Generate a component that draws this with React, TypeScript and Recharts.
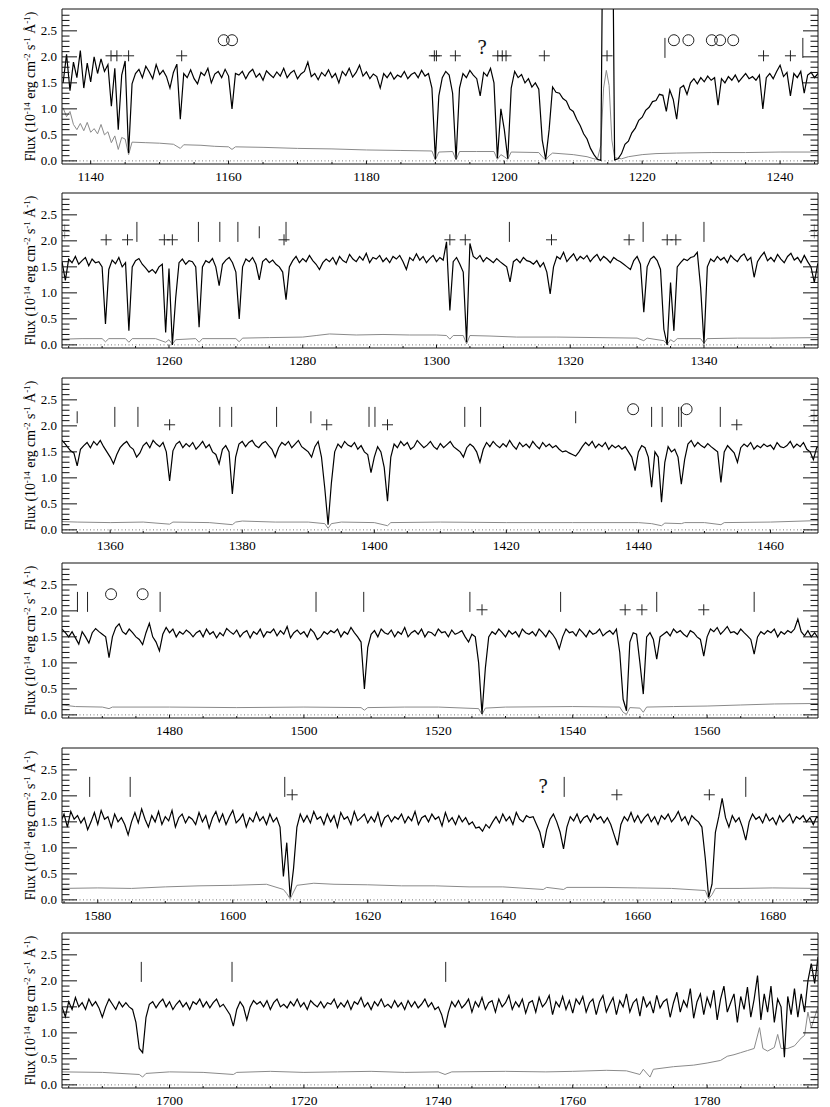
import React from "react";
import { ComposedChart, Line, Scatter, XAxis, YAxis, ReferenceLine } from "recharts";

// flux in units of 0.01 x 10^-14 erg cm^-2 s^-1 A^-1, sampled every 0.5 A from the start wavelength
const p1Start = 1136;
const p1Flux = [
  150, 205, 135, 190, 160, 212, 140, 188, 152, 200, 168, 196, 172, 185, 105, 178, 60, 165, 192, 15,
  148, 168, 176, 160, 182, 171, 158, 185, 166, 174, 162, 140, 170, 186, 80, 168, 160, 175, 158, 148,
  170, 164, 178, 150, 167, 172, 160, 176, 163, 100, 168, 165, 172, 158, 170, 176, 161, 168, 155, 173,
  166, 160, 171, 163, 178, 160, 169, 174, 158, 167, 172, 190, 162, 168, 156, 170, 163, 175, 160, 168,
  150, 172, 164, 178, 161, 170, 184, 163, 171, 158, 167, 162, 140, 168, 160, 170, 157, 165, 161, 172,
  158, 166, 170, 160, 174, 163, 168, 140, 3, 125, 160, 172, 165, 130, 3, 140, 168, 160, 174, 165,
  158, 125, 170, 163, 178, 150, 5, 100, 60, 4, 140, 172, 160, 166, 150, 158, 142, 150, 138, 40,
  3, 60, 142, 132, 130, 120, 115, 100, 95, 80, 68, 52, 42, 24, 12, 3, 1, 800, 800, 800,
  2, 4, 14, 32, 38, 54, 63, 78, 84, 97, 103, 114, 116, 128, 126, 95, 136, 118, 80, 140,
  145, 128, 150, 158, 148, 160, 152, 163, 155, 160, 107, 158, 150, 162, 155, 165, 152, 160, 168, 158,
  162, 155, 165, 100, 160, 168, 158, 172, 184, 162, 170, 125, 168, 160, 172, 130, 165, 170, 160, 168,
];
// error spectrum: [wavelength, flux x100]
const p1Err = [
  [1136, 102], [1136.5, 85], [1137, 95], [1137.5, 70], [1138, 60], [1138.5, 72], [1139, 58], [1139.5, 74],
  [1140, 55], [1140.5, 62], [1141, 52], [1141.5, 70], [1142, 50], [1142.5, 56], [1143, 35], [1143.5, 48],
  [1144, 22], [1144.5, 45], [1145, 42], [1145.5, 12], [1146, 36], [1148, 35], [1150, 34], [1152, 32],
  [1153, 24], [1153.5, 31], [1156, 30], [1158, 28], [1160, 27], [1160.5, 22], [1161, 27], [1165, 26],
  [1170, 24], [1175, 23], [1180, 21], [1185, 20], [1189.5, 19], [1190, 2], [1190.5, 17], [1192.5, 18],
  [1193, 2], [1193.5, 18], [1196, 18], [1198.5, 18], [1199, 3], [1199.5, 12], [1200, 8], [1200.5, 3],
  [1201, 17], [1205, 16], [1205.5, 8], [1206, 2], [1206.5, 10], [1207, 15], [1210, 12], [1212, 8],
  [1213, 4], [1213.5, 3], [1214, 30], [1214.4, 140], [1214.8, 174], [1215.2, 145], [1215.6, 40], [1216, 6],
  [1217, 4], [1218, 8], [1220, 12], [1222, 14], [1225, 15], [1230, 16], [1235, 16], [1240, 17], [1245.5, 17],
];
const p1Plus = [1142.95, 1143.8, 1145.5, 1153.2, 1189.85, 1190.15, 1192.9, 1199.05, 1199.7, 1200.25, 1205.8, 1214.9, 1237.6, 1241.5];
const p1Bars = [1223.3, 1243.3];
const p1Circles = [1159.3, 1160.5, 1224.6, 1226.7, 1230.1, 1231.3, 1233.2];
const p1Query = [1196.8];

const p2Start = 1244;
const p2Flux = [
  160, 124, 165, 158, 170, 155, 162, 168, 152, 165, 158, 160, 150, 40, 145, 163, 156, 168, 150, 158,
  27, 150, 162, 166, 155, 148, 140, 145, 138, 150, 155, 24, 147, 0, 90, 158, 165, 155, 162, 160,
  150, 34, 150, 162, 158, 166, 150, 114, 155, 163, 168, 158, 140, 50, 150, 165, 160, 168, 155, 125,
  160, 166, 158, 163, 155, 150, 140, 87, 150, 162, 170, 158, 166, 160, 172, 162, 155, 145, 158, 165,
  160, 168, 155, 170, 162, 158, 174, 165, 160, 170, 163, 176, 158, 168, 165, 172, 160, 167, 158, 170,
  165, 172, 160, 145, 168, 162, 175, 163, 170, 158, 166, 172, 160, 168, 163, 198, 66, 160, 168, 155,
  140, 5, 195, 170, 165, 172, 160, 168, 163, 158, 166, 160, 155, 150, 121, 160, 165, 158, 168, 162,
  160, 155, 162, 150, 158, 140, 98, 150, 170, 165, 178, 160, 168, 175, 162, 170, 165, 172, 160, 168,
  174, 162, 170, 165, 158, 168, 163, 160, 155, 150, 145, 162, 170, 155, 63, 150, 165, 170, 162, 145,
  30, 0, 120, 27, 150, 158, 165, 162, 168, 170, 178, 110, 2, 150, 165, 160, 170, 163, 168, 158,
  172, 165, 160, 170, 175, 162, 168, 130, 160, 170, 178, 162, 168, 160, 174, 165, 158, 170, 176, 163,
  168, 158, 172, 160, 150, 120, 155, 165,
];
const p2Err = [
  [1244, 11], [1247, 12], [1250, 12], [1250.5, 6], [1251, 12], [1253.5, 12], [1254, 5], [1254.5, 12],
  [1258, 12], [1259.5, 5], [1260, 10], [1260.5, 1], [1261, 10], [1264, 12], [1264.5, 5], [1265, 12],
  [1270, 12], [1270.5, 6], [1271, 13], [1275, 14], [1280, 15], [1282, 18], [1284, 21], [1288, 19],
  [1292, 20], [1296, 19], [1300, 19], [1301.5, 18], [1302, 11], [1302.5, 18], [1304, 18], [1304.5, 2],
  [1305, 18], [1308, 17], [1312, 15], [1318, 15], [1324, 14], [1330, 13], [1331, 8], [1331.5, 13],
  [1334, 8], [1334.5, 1], [1335, 10], [1335.5, 6], [1336, 12], [1339.5, 12], [1340, 3], [1340.5, 12],
  [1345, 13], [1350, 13], [1357.5, 14],
];
const p2Plus = [1250.6, 1253.8, 1259.3, 1260.5, 1277.2, 1302.0, 1304.3, 1317.2, 1328.8, 1334.5, 1335.8];
const p2EdgePlus = [1244.4, 1356.5];
const p2Bars = [1255.2, 1264.4, 1267.6, 1270.3, 1277.5, 1310.9, 1330.9, 1340.0];
const p2ShortBars = [1273.5];

const p3Start = 1352.5;
const p3Flux = [
  175, 168, 160, 152, 148, 123, 155, 162, 168, 158, 170, 163, 172, 160, 150, 140, 127, 145, 158, 165,
  170, 160, 155, 140, 148, 162, 168, 158, 172, 165, 160, 168, 150, 94, 152, 165, 170, 158, 166, 160,
  168, 155, 162, 170, 158, 164, 150, 145, 127, 155, 162, 150, 69, 140, 165, 170, 160, 168, 172, 162,
  158, 166, 170, 162, 155, 140, 158, 168, 163, 170, 158, 165, 172, 160, 155, 150, 140, 160, 170, 140,
  80, 10, 90, 150, 165, 158, 170, 163, 160, 168, 155, 162, 150, 145, 110, 140, 160, 150, 120, 55,
  140, 165, 158, 170, 162, 168, 155, 160, 172, 165, 158, 163, 170, 160, 155, 166, 158, 164, 170, 160,
  155, 150, 140, 158, 165, 160, 150, 130, 155, 168, 160, 170, 163, 158, 166, 160, 172, 162, 155, 168,
  160, 165, 158, 170, 162, 156, 168, 160, 165, 158, 162, 155, 150, 152, 148, 145, 142, 150, 160, 168,
  162, 170, 158, 165, 160, 168, 155, 163, 158, 162, 155, 160, 150, 140, 114, 150, 162, 158, 140, 82,
  150, 140, 53, 130, 160, 150, 155, 140, 88, 135, 165, 172, 160, 168, 162, 158, 166, 160, 155, 150,
  91, 150, 162, 155, 148, 130, 158, 165, 160, 168, 155, 162, 158, 165, 160, 163, 155, 168, 160, 158,
  162, 170, 158, 165, 160, 168, 155, 150, 135, 158, 162,
];
const p3Err = [
  [1352.5, 16], [1355, 15], [1360, 14], [1365, 15], [1369, 11], [1369.5, 15], [1375, 14], [1378.5, 10],
  [1379, 15], [1380, 17], [1385, 15], [1390, 15], [1392.5, 12], [1393, 3], [1393.5, 12], [1395, 15],
  [1400, 14], [1402, 8], [1402.5, 14], [1410, 15], [1420, 14], [1430, 14], [1440, 14], [1442, 12],
  [1443.5, 8], [1444, 13], [1446.5, 12], [1447, 14], [1450, 14], [1452.5, 10], [1453, 14], [1460, 15],
  [1467.5, 18],
];
const p3Plus = [1369.0, 1392.8, 1402.0, 1454.9];
const p3EdgePlus = [1466.6];
const p3Bars = [1360.7, 1364.2, 1376.6, 1378.4, 1385.2, 1399.2, 1400.1, 1413.7, 1416.1, 1442.0, 1443.6, 1446.1, 1446.5, 1452.4];
const p3ShortBars = [1355.0, 1390.4, 1430.5];
const p3Circles = [1439.2, 1447.3];

const p4Start = 1464;
const p4Flux = [
  165, 158, 150, 160, 148, 136, 160, 150, 138, 158, 166, 160, 155, 150, 110, 150, 168, 175, 160, 155,
  165, 158, 150, 145, 135, 158, 176, 150, 140, 123, 155, 168, 158, 165, 150, 160, 155, 163, 158, 150,
  158, 162, 150, 165, 155, 160, 148, 158, 152, 166, 160, 155, 163, 150, 158, 162, 148, 160, 155, 165,
  150, 160, 158, 165, 152, 162, 155, 170, 148, 158, 163, 155, 160, 150, 165, 158, 145, 150, 160, 155,
  162, 158, 165, 150, 160, 155, 168, 158, 150, 140, 50, 130, 155, 162, 150, 165, 158, 155, 163, 150,
  160, 155, 168, 150, 158, 162, 155, 165, 150, 160, 158, 152, 165, 158, 160, 150, 163, 155, 158, 162,
  150, 140, 155, 150, 100, 2, 90, 150, 160, 155, 165, 158, 150, 162, 155, 160, 150, 165, 158, 155,
  160, 152, 165, 158, 150, 162, 155, 145, 127, 150, 165, 158, 160, 152, 165, 158, 150, 162, 155, 158,
  165, 152, 158, 162, 155, 165, 120, 30, 8, 140, 158, 155, 100, 40, 150, 158, 145, 107, 150, 155,
  160, 152, 165, 158, 162, 155, 150, 162, 158, 150, 145, 113, 150, 165, 160, 168, 155, 162, 170, 158,
  160, 155, 165, 158, 152, 145, 117, 150, 160, 155, 162, 158, 165, 150, 160, 155, 162, 158, 165, 184,
  160, 152, 162, 150, 158, 148, 155,
];
const p4Err = [
  [1464, 19], [1466, 16], [1470, 15], [1471, 12], [1471.5, 15], [1480, 15], [1490, 14], [1500, 15],
  [1508.5, 14], [1509, 9], [1509.5, 14], [1515, 15], [1520, 15], [1526, 12], [1526.5, 1], [1527, 13],
  [1530, 15], [1540, 16], [1547, 15], [1547.5, 5], [1548, 1], [1548.5, 14], [1550, 13], [1550.5, 5],
  [1551, 15], [1555, 16], [1560, 17], [1565, 19], [1570, 21], [1577, 22],
];
const p4Plus = [1526.5, 1547.8, 1550.3, 1559.5];
const p4Bars = [1466.3, 1467.8, 1478.6, 1501.8, 1508.9, 1524.7, 1538.2, 1552.5, 1567.0];
const p4Circles = [1471.3, 1476.0];

const p5Start = 1574.5;
const p5Flux = [
  150, 165, 140, 170, 155, 162, 148, 158, 135, 150, 168, 145, 172, 155, 160, 140, 165, 150, 158, 145,
  125, 150, 168, 148, 175, 155, 140, 162, 150, 170, 145, 160, 152, 172, 140, 158, 165, 148, 160, 155,
  145, 168, 150, 162, 138, 158, 170, 150, 165, 145, 160, 172, 148, 155, 165, 140, 158, 150, 168, 152,
  160, 145, 165, 150, 158, 140, 45, 110, 5, 60, 140, 165, 150, 162, 148, 170, 155, 160, 145, 165,
  150, 162, 140, 168, 155, 160, 145, 170, 152, 158, 165, 148, 160, 150, 168, 142, 158, 163, 150, 160,
  155, 165, 148, 160, 152, 170, 145, 158, 162, 150, 165, 155, 160, 142, 168, 150, 158, 145, 162, 150,
  158, 145, 150, 138, 140, 132, 145, 138, 150, 160, 148, 165, 152, 160, 145, 168, 155, 150, 162, 158,
  160, 145, 130, 100, 135, 155, 165, 150, 130, 98, 140, 160, 152, 165, 148, 158, 162, 150, 165, 155,
  160, 148, 158, 145, 125, 105, 145, 160, 152, 168, 150, 162, 148, 158, 165, 150, 160, 145, 162, 155,
  165, 150, 158, 170, 152, 160, 145, 162, 155, 150, 140, 80, 5, 30, 130, 160, 195, 158, 140, 162,
  150, 158, 140, 115, 150, 165, 155, 160, 148, 165, 152, 158, 145, 162, 150, 158, 165, 148, 160, 155,
  162, 150, 158, 145, 160, 155,
];
const p5Err = [
  [1574.5, 22], [1580, 23], [1585, 22], [1590, 25], [1595, 27], [1600, 28], [1605, 30], [1607.5, 20],
  [1608, 12], [1608.5, 2], [1609, 15], [1609.5, 28], [1612, 32], [1615, 30], [1620, 29], [1625, 27],
  [1630, 27], [1635, 25], [1640, 25], [1646, 20], [1646.5, 24], [1649, 20], [1649.5, 24], [1655, 24],
  [1660, 23], [1665, 22], [1670, 18], [1670.5, 2], [1671, 10], [1671.5, 22], [1675, 22], [1680, 23],
  [1687, 22],
];
const p5Plus = [1608.8, 1656.9, 1670.6];
const p5Bars = [1578.8, 1584.8, 1607.7, 1649.1, 1676.0];
const p5Query = [1646.0];

const p6Start = 1684;
const p6Flux = [
  150, 131, 160, 145, 168, 150, 158, 145, 165, 152, 160, 148, 130, 150, 165, 155, 145, 160, 150, 158,
  150, 145, 120, 70, 62, 130, 155, 160, 148, 158, 165, 150, 160, 145, 155, 162, 150, 158, 145, 160,
  155, 165, 150, 160, 148, 158, 165, 150, 155, 145, 135, 113, 145, 160, 150, 125, 150, 162, 155, 160,
  150, 162, 145, 158, 165, 150, 155, 148, 160, 152, 165, 150, 158, 145, 162, 155, 150, 160, 148, 158,
  155, 165, 148, 158, 150, 162, 145, 160, 155, 168, 150, 158, 145, 160, 152, 165, 150, 155, 148, 162,
  150, 158, 145, 162, 150, 160, 148, 155, 165, 150, 158, 145, 150, 135, 110, 140, 160, 150, 162, 148,
  155, 165, 140, 160, 150, 168, 145, 158, 162, 140, 165, 150, 158, 172, 145, 160, 150, 165, 138, 158,
  162, 140, 168, 150, 158, 172, 135, 160, 150, 170, 145, 162, 138, 165, 155, 170, 140, 158, 165, 135,
  160, 172, 140, 155, 168, 135, 162, 150, 175, 140, 158, 165, 132, 170, 150, 160, 138, 172, 148, 160,
  165, 130, 158, 178, 140, 162, 150, 185, 128, 160, 175, 135, 168, 150, 182, 125, 165, 190, 140, 158,
  175, 120, 170, 145, 188, 130, 165, 210, 125, 175, 140, 190, 120, 165, 150, 53, 170, 135, 185, 130,
  175, 140, 200, 233, 195, 245, 250,
];
const p6Err = [
  [1684, 25], [1690, 24], [1695.5, 20], [1696, 15], [1696.5, 22], [1700, 25], [1705, 24], [1709.5, 20],
  [1710, 24], [1715, 26], [1720, 24], [1725, 25], [1730, 26], [1735, 24], [1740, 25], [1741, 20],
  [1742, 25], [1750, 26], [1756, 25], [1760, 26], [1765, 28], [1768, 27], [1770, 20], [1770.5, 30],
  [1771.5, 15], [1772, 30], [1775, 35], [1778, 38], [1780, 42], [1782, 47], [1783, 55], [1784, 58],
  [1785, 62], [1786, 66], [1787, 70], [1787.8, 110], [1788.3, 70], [1789, 65], [1790, 72], [1790.5, 97],
  [1791, 70], [1792, 70], [1793, 75], [1794, 90], [1794.5, 95], [1795, 140], [1795.5, 110], [1796, 130],
  [1796.5, 150], [1797, 155],
];
const p6Bars = [1695.8, 1709.3, 1741.1];

const yMajor = [0, 0.5, 1, 1.5, 2, 2.5];
const yMinor = [0.1, 0.2, 0.3, 0.4, 0.6, 0.7, 0.8, 0.9, 1.1, 1.2, 1.3, 1.4, 1.6, 1.7, 1.8, 1.9, 2.1, 2.2, 2.3, 2.4, 2.6, 2.7, 2.8];
const yTicks = [...yMajor, ...yMinor].sort((a, b) => a - b);

// plot area: x 62..818, height 155
const MARGIN = { top: 5, right: 11, bottom: 4, left: 2 };
const AXIS_W = 60;
const AXIS_H = 20;
const Y_DOMAIN: [number, number] = [-0.06, 2.92];
const serif = '"Liberation Serif", "DejaVu Serif", serif';
const INK = "#111";

type Pt = { w: number; f: number };
const spectrum = (start: number, vals: number[]): Pt[] => vals.map((v, i) => ({ w: start + i * 0.5, f: v / 100 }));
const errCurve = (pairs: number[][]): Pt[] => pairs.map(([w, v]) => ({ w, f: v / 100 }));
const marks = (ws: number[] | undefined, y: number) => (ws || []).map((w) => ({ w, y }));

const isMajorY = (v: number) => yMajor.some((m) => Math.abs(m - v) < 1e-6);

const BottomTick = (p: any) => {
  const major = p.payload.value % 20 === 0;
  return (
    <g>
      <line x1={p.x} x2={p.x} y1={p.y} y2={p.y - (major ? 3.5 : 2)} stroke={INK} />
      {major && (
        <text x={p.x} y={p.y + 17} textAnchor="middle" fontFamily={serif} fontSize={13.5} fill="#000">
          {p.payload.value}
        </text>
      )}
    </g>
  );
};
const TopTick = (p: any) => {
  const major = p.payload.value % 20 === 0;
  return <line x1={p.x} x2={p.x} y1={p.y} y2={p.y + (major ? 3.5 : 2)} stroke={INK} />;
};
const LeftTick = (p: any) => {
  const major = isMajorY(p.payload.value);
  return (
    <g>
      <line x1={p.x} x2={p.x + (major ? 15 : 7.5)} y1={p.y} y2={p.y} stroke={INK} />
      {major && (
        <text x={p.x - 5} y={p.y + 4.5} textAnchor="end" fontFamily={serif} fontSize={13} fill="#000">
          {p.payload.value.toFixed(1)}
        </text>
      )}
    </g>
  );
};
const RightTick = (p: any) => {
  const major = isMajorY(p.payload.value);
  return <line x1={p.x} x2={p.x - (major ? 15 : 7.5)} y1={p.y} y2={p.y} stroke={INK} />;
};

const PlusShape = (p: any) => (
  <path d={`M${p.cx - 5.5},${p.cy}H${p.cx + 5.5}M${p.cx},${p.cy - 5.5}V${p.cy + 5.5}`} stroke="#222" fill="none" />
);
const EdgePlusShape = (p: any) => (
  <path d={`M${p.cx - 5.5},${p.cy}H${p.cx + 5.5}M${p.cx},${p.cy - 7}V${p.cy + 7}`} stroke="#999" fill="none" />
);
const BarShape = (p: any) => <line x1={p.cx} x2={p.cx} y1={p.cy} y2={p.cy - 20} stroke="#222" />;
const ShortBarShape = (p: any) => <line x1={p.cx} x2={p.cx} y1={p.cy} y2={p.cy - 12} stroke="#222" />;
const CircleShape = (p: any) => <circle cx={p.cx} cy={p.cy} r={5.5} fill="none" stroke="#222" />;
const QueryShape = (p: any) => (
  <text x={p.cx} y={p.cy + 7} textAnchor="middle" fontFamily={serif} fontSize={21} fill="#111">
    ?
  </text>
);

const FluxLabel = () => (
  <text transform={`translate(35, ${MARGIN.top + 1 + 77.5}) rotate(-90)`} textAnchor="middle" fontFamily={serif} fontSize={13.8} fill="#000">
    Flux (10<tspan dy={-5} fontSize={9}>-14</tspan>
    <tspan dy={5}> erg cm</tspan>
    <tspan dy={-5} fontSize={9}>-2</tspan>
    <tspan dy={5}> s</tspan>
    <tspan dy={-5} fontSize={9}>-1</tspan>
    <tspan dy={5}> Å</tspan>
    <tspan dy={-5} fontSize={9}>-1</tspan>
    <tspan dy={5}>)</tspan>
  </text>
);

type PanelProps = {
  top: number;
  lo: number;
  hi: number;
  flux: Pt[];
  err: Pt[];
  plus?: number[];
  edgePlus?: number[];
  bars?: number[];
  shortBars?: number[];
  circles?: number[];
  query?: number[];
};

function Panel({ top, lo, hi, flux, err, plus, edgePlus, bars, shortBars, circles, query }: PanelProps) {
  const xTicks: number[] = [];
  for (let w = Math.ceil(lo / 5) * 5; w <= hi; w += 5) xTicks.push(w);
  return (
    <div style={{ position: "absolute", left: 0, top: top - MARGIN.top - 1 }}>
      <ComposedChart width={830} height={185} margin={MARGIN}>
        <XAxis dataKey="w" type="number" domain={[lo, hi]} allowDataOverflow ticks={xTicks} interval={0}
          height={AXIS_H} tickSize={0} tickMargin={0} tickLine={false} axisLine={{ stroke: INK }} tick={(p: any) => <BottomTick {...p} />} />
        <XAxis xAxisId="t" orientation="top" type="number" domain={[lo, hi]} allowDataOverflow ticks={xTicks} interval={0}
          height={1} tickSize={0} tickMargin={0} tickLine={false} axisLine={{ stroke: INK }} tick={(p: any) => <TopTick {...p} />} />
        <YAxis type="number" domain={Y_DOMAIN} allowDataOverflow ticks={yTicks} interval={0} width={AXIS_W}
          tickSize={0} tickMargin={0} tickLine={false} axisLine={{ stroke: INK }} tick={(p: any) => <LeftTick {...p} />}
          label={{ content: () => <FluxLabel /> }} />
        <YAxis yAxisId="r" orientation="right" type="number" domain={Y_DOMAIN} allowDataOverflow ticks={yTicks} interval={0} width={1}
          tickSize={0} tickMargin={0} tickLine={false} axisLine={{ stroke: INK }} tick={(p: any) => <RightTick {...p} />} />
        <ReferenceLine y={0} stroke="#777" strokeDasharray="1 2.5" />
        <Line data={err} dataKey="f" stroke="#8a8a8a" strokeWidth={1} dot={false} activeDot={false} isAnimationActive={false} />
        <Line data={flux} dataKey="f" stroke="#000" strokeWidth={1.2} dot={false} activeDot={false} isAnimationActive={false} />
        <Scatter data={marks(plus, 2.02)} dataKey="y" shape={PlusShape} isAnimationActive={false} />
        <Scatter data={marks(edgePlus, 2.18)} dataKey="y" shape={EdgePlusShape} isAnimationActive={false} />
        <Scatter data={marks(bars, 1.98)} dataKey="y" shape={BarShape} isAnimationActive={false} />
        <Scatter data={marks(shortBars, 2.05)} dataKey="y" shape={ShortBarShape} isAnimationActive={false} />
        <Scatter data={marks(circles, 2.32)} dataKey="y" shape={CircleShape} isAnimationActive={false} />
        <Scatter data={marks(query, 2.18)} dataKey="y" shape={QueryShape} isAnimationActive={false} />
      </ComposedChart>
    </div>
  );
}

export default function App() {
  return (
    <div style={{ position: "absolute", left: 0, top: 0, width: 830, height: 1107, overflow: "hidden", background: "#fff" }}>
      <Panel top={9} lo={1135.84} hi={1245.5} flux={spectrum(p1Start, p1Flux)} err={errCurve(p1Err)}
        plus={p1Plus} bars={p1Bars} circles={p1Circles} query={p1Query} />
      <Panel top={193} lo={1244.0} hi={1357.05} flux={spectrum(p2Start, p2Flux)} err={errCurve(p2Err)}
        plus={p2Plus} edgePlus={p2EdgePlus} bars={p2Bars} shortBars={p2ShortBars} />
      <Panel top={378} lo={1352.7} hi={1467.2} flux={spectrum(p3Start, p3Flux)} err={errCurve(p3Err)}
        plus={p3Plus} edgePlus={p3EdgePlus} bars={p3Bars} shortBars={p3ShortBars} circles={p3Circles} />
      <Panel top={563} lo={1464.0} hi={1576.5} flux={spectrum(p4Start, p4Flux)} err={errCurve(p4Err)}
        plus={p4Plus} bars={p4Bars} circles={p4Circles} />
      <Panel top={748} lo={1574.7} hi={1686.7} flux={spectrum(p5Start, p5Flux)} err={errCurve(p5Err)}
        plus={p5Plus} bars={p5Bars} query={p5Query} />
      <Panel top={933} lo={1684.0} hi={1796.5} flux={spectrum(p6Start, p6Flux)} err={errCurve(p6Err)} bars={p6Bars} />
    </div>
  );
}
